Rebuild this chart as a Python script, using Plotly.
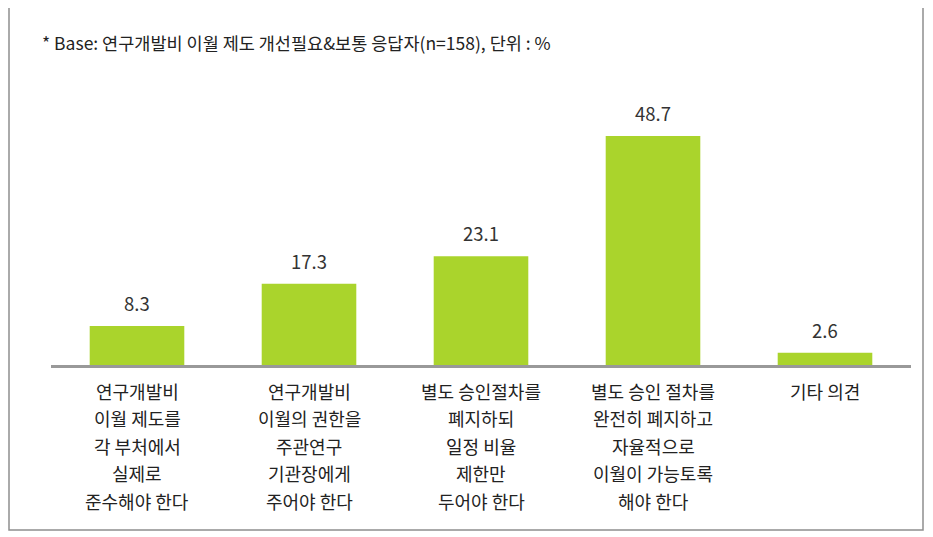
import plotly.graph_objects as go

categories = ["c1", "c2", "c3", "c4", "c5"]
cat_labels = [
    ["연구개발비", "이월 제도를", "각 부처에서", "실제로", "준수해야 한다"],
    ["연구개발비", "이월의 권한을", "주관연구", "기관장에게", "주어야 한다"],
    ["별도 승인절차를", "폐지하되", "일정 비율", "제한만", "두어야 한다"],
    ["별도 승인 절차를", "완전히 폐지하고", "자율적으로", "이월이 가능토록", "해야 한다"],
    ["기타 의견"],
]
values = [8.3, 17.3, 23.1, 48.7, 2.6]
title = "* Base: 연구개발비 이월 제도 개선필요&보통 응답자(n=158), 단위 : %"

FONT = "Noto Sans CJK KR"

# the page body adds an 8px offset, so the layout is laid out 8px up/left
L, T, PW, PH = 43, 72, 860, 285

fig = go.Figure()
fig.add_trace(go.Bar(
    x=categories, y=values,
    marker=dict(color="#AAD42C", line=dict(width=0)),
    width=0.55,
    hoverinfo="skip",
))

# value labels above bars
for c, v in zip(categories, values):
    fig.add_annotation(x=c, y=v, text=f"{v:.1f}", showarrow=False,
                       yanchor="bottom", yshift=8,
                       font=dict(family=FONT, size=18.5, color="#333333"))

# category labels, one line per annotation for wide line spacing
for c, lines in zip(categories, cat_labels):
    for i, ln in enumerate(lines):
        fig.add_annotation(x=c, y=0, yref="paper", text=ln, showarrow=False,
                           yanchor="middle", yshift=-(25.5 + i * 27.5),
                           font=dict(family=FONT, size=18, color="#222222"))

fig.add_annotation(x=(32 - L) / PW, y=(PH + T - 34) / PH, xref="paper", yref="paper",
                   text=title, showarrow=False, xanchor="left", yanchor="middle",
                   font=dict(family=FONT, size=17.5, color="#222222"))

# outer frame
fig.add_shape(type="rect", xref="paper", yref="paper",
              x0=(1 - L) / PW, x1=(915 - L) / PW,
              y0=(PH + T - 522) / PH, y1=(PH + T + 1) / PH,
              line=dict(color="#8F8F8F", width=1.5), fillcolor="rgba(0,0,0,0)",
              layer="below")

fig.update_layout(
    width=933, height=537,
    margin=dict(l=L, r=933 - L - PW, t=T, b=537 - T - PH),
    plot_bgcolor="white", paper_bgcolor="white",
    showlegend=False,
)
fig.update_xaxes(showticklabels=False, showline=True, linecolor="#999999",
                 linewidth=2.5, ticks="", showgrid=False, zeroline=False)
fig.update_yaxes(range=[0, 60.6], visible=False, showgrid=False, zeroline=False)

fig.write_html("out.html")
